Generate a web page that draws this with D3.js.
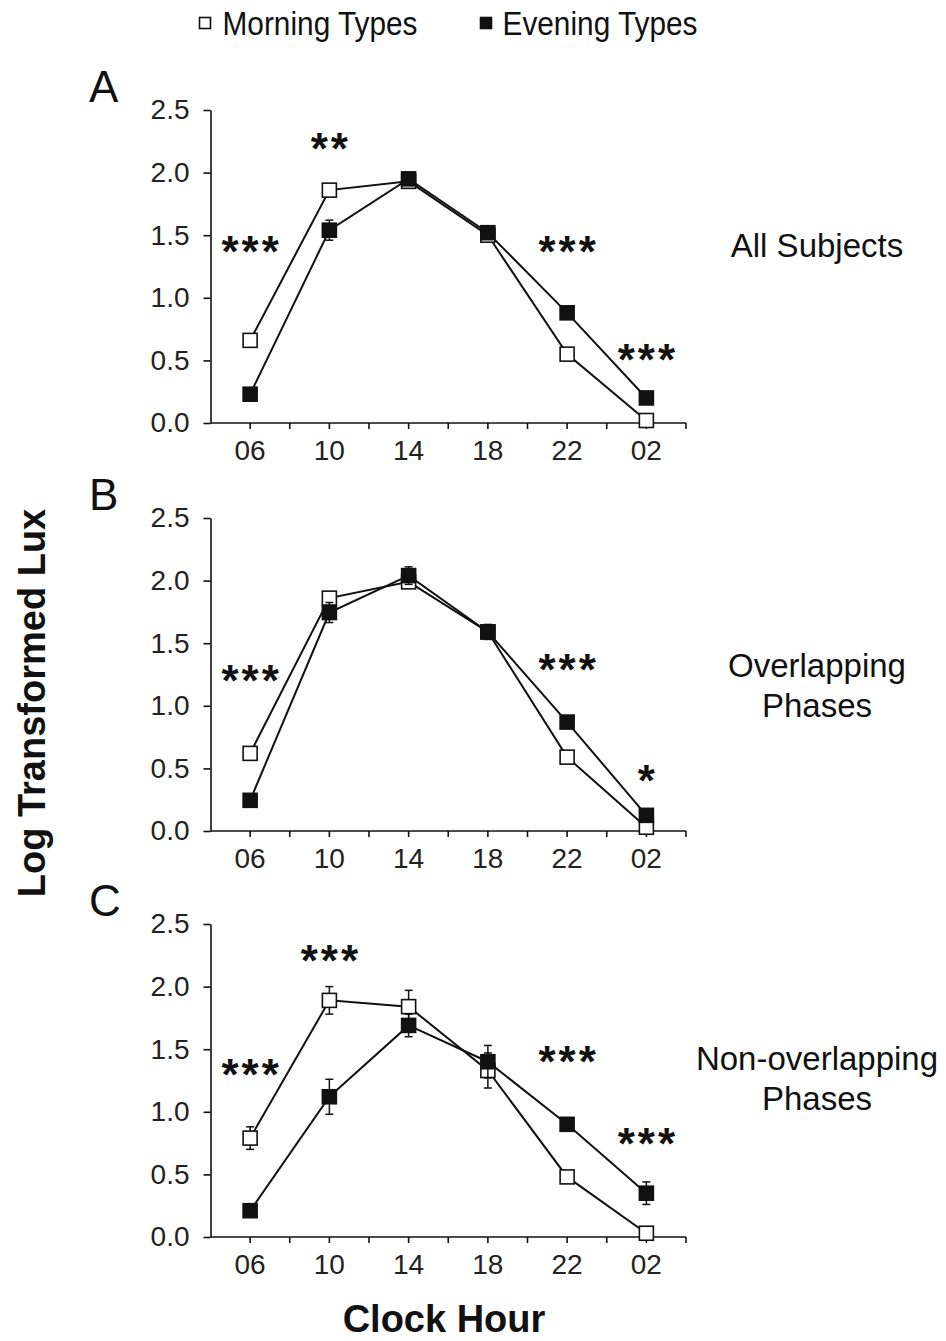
<!DOCTYPE html>
<html lang="en">
<head>
  <meta charset="UTF-8">
  <title>Log Transformed Lux by Clock Hour</title>
  <style>
    body {
      margin: 0;
      background-color: #fff;
    }
    svg {
      display: block;
      font-family: "Liberation Sans", Arial, sans-serif;
    }
  </style>
  <script src="https://d3js.org/d3.v7.min.js"></script>
</head>
<body>
  <svg width="946" height="1341"></svg>

  <script>
    // Categories and values
    const hours = ["06", "10", "14", "18", "22", "02"];
    const yTicks = [0, 0.5, 1.0, 1.5, 2.0, 2.5];

    const morningA = [0.66, 1.86, 1.93, 1.50, 0.55, 0.02];
    const morningErrA = [0.03, 0.03, 0.04, 0.04, 0.02, 0.01];
    const eveningA = [0.23, 1.54, 1.95, 1.52, 0.88, 0.20];
    const eveningErrA = [0.03, 0.08, 0.04, 0.04, 0.03, 0.03];

    const morningB = [0.62, 1.86, 1.99, 1.59, 0.59, 0.03];
    const morningErrB = [0.03, 0.03, 0.04, 0.05, 0.02, 0.01];
    const eveningB = [0.245, 1.745, 2.04, 1.59, 0.87, 0.125];
    const eveningErrB = [0.03, 0.08, 0.07, 0.06, 0.04, 0.03];

    const morningC = [0.79, 1.89, 1.84, 1.33, 0.48, 0.03];
    const morningErrC = [0.09, 0.11, 0.13, 0.14, 0.03, 0.01];
    const eveningC = [0.21, 1.12, 1.69, 1.40, 0.90, 0.35];
    const eveningErrC = [0.04, 0.14, 0.09, 0.13, 0.04, 0.09];

    // significance marks: [hour, label, level in lux units]
    const sigA = [["06", "***", 1.43], ["10", "**", 2.25], ["22", "***", 1.43], ["02", "***", 0.57]];
    const sigB = [["06", "***", 1.26], ["22", "***", 1.35], ["02", "*", 0.46]];
    const sigC = [["06", "***", 1.36], ["10", "***", 2.27], ["22", "***", 1.46], ["02", "***", 0.81]];

    const panelLetters = ["A", "B", "C"];
    const panelTitles = [["All Subjects"], ["Overlapping", "Phases"], ["Non-overlapping", "Phases"]];
    const seriesNames = ["Morning Types", "Evening Types"];

    const panels = [
      { morning: morningA, mErr: morningErrA, evening: eveningA, eErr: eveningErrA, sig: sigA, top: 110 },
      { morning: morningB, mErr: morningErrB, evening: eveningB, eErr: eveningErrB, sig: sigB, top: 518 },
      { morning: morningC, mErr: morningErrC, evening: eveningC, eErr: eveningErrC, sig: sigC, top: 924 }
    ];

    const svg = d3.select("svg");
    const ink = "#111";
    const plotH = 313;
    const left = 210.5, right = 686;

    // index scale: category i is centred at i + 0.5
    const xi = d3.scaleLinear().domain([0, hours.length]).range([left, right]);
    const xPos = h => xi(hours.indexOf(h) + 0.5);

    // legend
    const legend = svg.append("g");
    [[205, 320, "#fff"], [486, 600, ink]].forEach(([sx, tx, fill], i) => {
      legend.append("rect")
        .attr("x", sx - 5.5).attr("y", 17.5).attr("width", 11).attr("height", 11)
        .attr("fill", fill).attr("stroke", ink).attr("stroke-width", 1.6);
      legend.append("text")
        .attr("x", tx).attr("y", 35)
        .attr("text-anchor", "middle")
        .attr("font-size", 33)
        .attr("textLength", 195).attr("lengthAdjust", "spacingAndGlyphs")
        .attr("fill", ink)
        .text(seriesNames[i]);
    });

    panels.forEach((p, k) => {
      const y = d3.scaleLinear().domain([0, 2.5]).range([p.top + plotH, p.top]);
      const g = svg.append("g");

      // y axis
      const yAxis = g.append("g")
        .attr("transform", `translate(${left},0)`)
        .call(d3.axisLeft(y).tickValues(yTicks).tickFormat(d3.format(".1f")).tickSize(7).tickSizeOuter(0).tickPadding(14));
      yAxis.select(".domain").attr("stroke", ink).attr("stroke-width", 1.6);
      yAxis.selectAll(".tick line").attr("stroke", ink).attr("stroke-width", 1.6);
      yAxis.selectAll(".tick text").attr("font-size", 28).attr("fill", "#222")
        .attr("font-family", "'Liberation Sans', Arial, sans-serif");

      // x axis: line, half-category ticks, hour labels
      const y0 = y(0);
      g.append("line")
        .attr("x1", left).attr("x2", right).attr("y1", y0).attr("y2", y0)
        .attr("stroke", ink).attr("stroke-width", 1.6);
      g.selectAll(".xt").data(d3.range(1, hours.length * 2 + 1).map(d => d / 2))
        .join("line")
        .attr("x1", d => xi(d)).attr("x2", d => xi(d))
        .attr("y1", y0).attr("y2", y0 + 6)
        .attr("stroke", ink).attr("stroke-width", 1.6);
      g.selectAll(".xl").data(hours)
        .join("text")
        .attr("x", xPos).attr("y", y0 + 37)
        .attr("text-anchor", "middle")
        .attr("font-size", 28).attr("fill", "#222")
        .text(d => d);

      // series
      const line = d3.line().x((d, i) => xPos(hours[i])).y(d => y(d));
      const series = [
        { vals: p.morning, err: p.mErr, fill: "#fff" },
        { vals: p.evening, err: p.eErr, fill: ink }
      ];
      series.forEach(s => {
        g.append("path").datum(s.vals)
          .attr("d", line).attr("fill", "none")
          .attr("stroke", ink).attr("stroke-width", 2);
      });
      series.forEach(s => {
        const pts = s.vals.map((v, i) => ({ h: hours[i], v, e: s.err[i] }));
        const eb = g.append("g");
        eb.selectAll("line.v").data(pts).join("line")
          .attr("x1", d => xPos(d.h)).attr("x2", d => xPos(d.h))
          .attr("y1", d => y(d.v - d.e)).attr("y2", d => y(d.v + d.e))
          .attr("stroke", ink).attr("stroke-width", 1.5);
        ["+", "-"].forEach(sg => {
          eb.selectAll("line.c" + (sg === "+" ? "p" : "m")).data(pts).join("line")
            .attr("x1", d => xPos(d.h) - 4).attr("x2", d => xPos(d.h) + 4)
            .attr("y1", d => y(sg === "+" ? d.v + d.e : d.v - d.e))
            .attr("y2", d => y(sg === "+" ? d.v + d.e : d.v - d.e))
            .attr("stroke", ink).attr("stroke-width", 1.5);
        });
        g.selectAll(null).data(pts).join("rect")
          .attr("x", d => xPos(d.h) - 7).attr("y", d => y(d.v) - 7)
          .attr("width", 14).attr("height", 14)
          .attr("fill", s.fill).attr("stroke", ink).attr("stroke-width", 1.6);
      });

      // significance asterisks
      g.selectAll(".sig").data(p.sig).join("text")
        .attr("x", d => xPos(d[0]) + 1.5).attr("y", d => y(d[2]) + 23)
        .attr("text-anchor", "middle")
        .attr("font-size", 44).attr("font-weight", "bold")
        .attr("letter-spacing", 3).attr("fill", ink)
        .text(d => d[1]);

      // panel letter
      g.append("text")
        .attr("x", 89).attr("y", p.top - 8)
        .attr("font-size", 44).attr("fill", ink)
        .text(panelLetters[k]);

      // panel title on the right
      const lines = panelTitles[k];
      const firstBase = lines.length === 1 ? p.top + 147 : p.top + (k === 1 ? 159 : 146);
      lines.forEach((t, j) => {
        g.append("text")
          .attr("x", 817).attr("y", firstBase + j * 40)
          .attr("text-anchor", "middle")
          .attr("font-size", 33).attr("fill", ink)
          .text(t);
      });
    });

    // axis titles
    svg.append("text")
      .attr("transform", "translate(45,703) rotate(-90)")
      .attr("text-anchor", "middle")
      .attr("font-size", 38).attr("font-weight", "bold").attr("fill", ink)
      .text("Log Transformed Lux");

    svg.append("text")
      .attr("x", 444).attr("y", 1332)
      .attr("text-anchor", "middle")
      .attr("font-size", 38).attr("font-weight", "bold").attr("fill", ink)
      .text("Clock Hour");
  </script>
</body>
</html>
